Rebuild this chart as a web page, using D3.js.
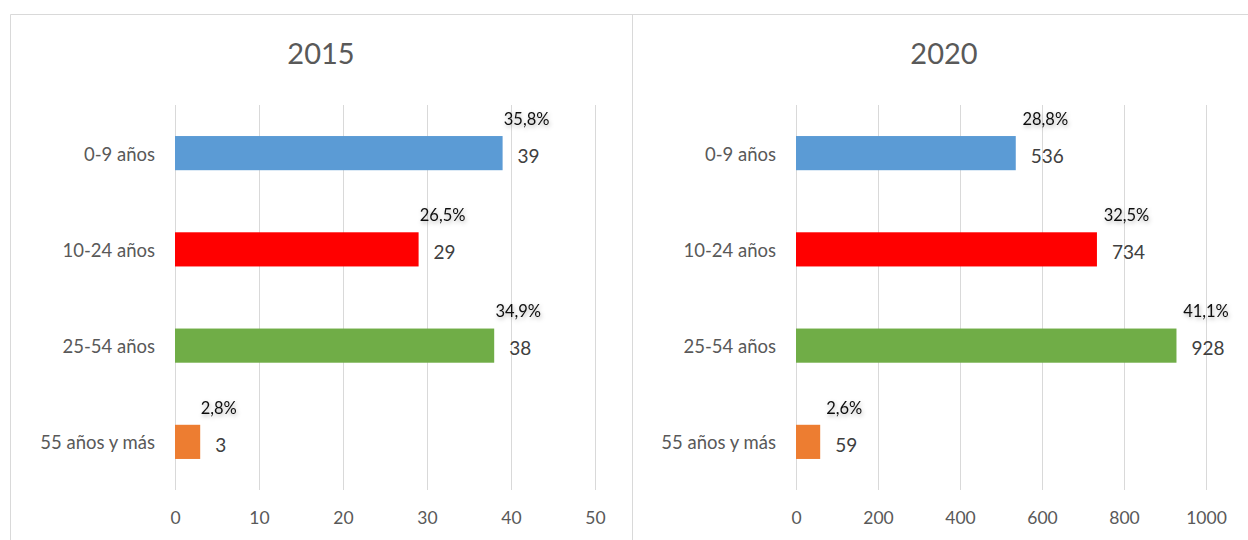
<!DOCTYPE html>
<html>
<head>
<meta charset="utf-8">
<script src="https://cdn.jsdelivr.net/npm/d3@7"></script>
<style>
  html, body { margin: 0; padding: 0; background: #fff; }
  svg { display: block; font-family: Lato, "Open Sans", sans-serif; }
  .grid line { stroke: #d9d9d9; stroke-width: 1; }
  .axis text { fill: #595959; }
  .axis path, .axis line { display: none; }
</style>
</head>
<body>
<div id="chart"></div>
<script>
const categories = ['0-9 años', '10-24 años', '25-54 años', '55 años y más'];
const colors = ['#5B9BD5', '#FF0000', '#70AD47', '#ED7D31'];

const values2015 = [39, 29, 38, 3];
const shares2015 = ['35,8%', '26,5%', '34,9%', '2,8%'];
const ticks2015 = [0, 10, 20, 30, 40, 50];

const values2020 = [536, 734, 928, 59];
const shares2020 = ['28,8%', '32,5%', '41,1%', '2,6%'];
const ticks2020 = [0, 200, 400, 600, 800, 1000];

const canvasWidth = 1248;
const canvasHeight = 540;

const svg = d3.select('#chart')
  .append('svg')
    .attr('width', canvasWidth)
    .attr('height', canvasHeight);

// soft shadow behind the percentage labels
const shadow = svg.append('defs').append('filter')
  .attr('id', 'glow')
  .attr('x', '-30%').attr('y', '-50%')
  .attr('width', '160%').attr('height', '220%');
shadow.append('feDropShadow')
  .attr('dx', 1).attr('dy', 2)
  .attr('stdDeviation', 2.2)
  .attr('flood-color', '#000')
  .attr('flood-opacity', 0.3);

// panel frames
svg.append('path')
  .attr('d', `M10.5,${canvasHeight} V14.5 H${canvasWidth} M632.5,14.5 V${canvasHeight}`)
  .attr('fill', 'none')
  .attr('stroke', '#d9d9d9');

function panel({ title, values, shares, ticks, left, right, centre }) {
  const top = 105;
  const bottom = 490;
  const g = svg.append('g');

  const scaleX = d3.scaleLinear()
    .domain([ticks[0], ticks[ticks.length - 1]])
    .range([left, right]);
  const scaleY = d3.scaleBand()
    .domain(categories)
    .range([top, bottom])
    .paddingInner(0.645)
    .paddingOuter(0.3225);

  g.append('text')
    .attr('x', centre)
    .attr('y', 64)
    .attr('text-anchor', 'middle')
    .attr('fill', '#595959')
    .style('font-size', '29px')
    .text(title);

  // vertical gridlines
  g.append('g')
    .attr('class', 'grid')
    .selectAll('line')
    .data(ticks)
    .enter()
    .append('line')
      .attr('x1', d => Math.round(scaleX(d)) + 0.5)
      .attr('x2', d => Math.round(scaleX(d)) + 0.5)
      .attr('y1', top)
      .attr('y2', bottom);

  g.append('g')
    .attr('class', 'axis')
    .attr('transform', `translate(0, ${bottom})`)
    .call(d3.axisBottom(scaleX).tickValues(ticks).tickFormat(d3.format('d')).tickSize(0).tickPadding(22))
    .attr('font-family', null)
    .attr('font-size', null)
    .selectAll('text')
      .style('font-size', '17.5px');

  g.append('g')
    .attr('class', 'axis')
    .attr('transform', `translate(${left}, 0)`)
    .call(d3.axisLeft(scaleY).tickSize(0).tickPadding(20))
    .attr('font-family', null)
    .attr('font-size', null)
    .selectAll('text')
      .attr('dy', '0.4em')
      .style('font-size', '18.5px');

  const rows = categories.map((c, i) => ({ c, v: values[i], s: shares[i], color: colors[i] }));

  g.append('g')
    .selectAll('rect')
    .data(rows)
    .enter()
    .append('rect')
      .attr('x', scaleX(0))
      .attr('y', d => scaleY(d.c))
      .attr('width', d => scaleX(d.v) - scaleX(0))
      .attr('height', scaleY.bandwidth())
      .attr('fill', d => d.color);

  const valueLabels = g.append('g')
    .selectAll('text')
    .data(rows)
    .enter()
    .append('text')
      .attr('x', d => scaleX(d.v) + 15)
      .attr('y', d => scaleY(d.c) + scaleY.bandwidth() / 2 + 3)
      .attr('dy', '0.35em')
      .attr('fill', '#404040')
      .style('font-size', '19px')
      .text(d => d.v);

  const widths = valueLabels.nodes().map(n => n.getComputedTextLength());

  g.append('g')
    .selectAll('text')
    .data(rows)
    .enter()
    .append('text')
      .attr('x', (d, i) => scaleX(d.v) + 15 + widths[i] / 2 - 2)
      .attr('y', d => scaleY(d.c) - 17)
      .attr('dy', '0.35em')
      .attr('text-anchor', 'middle')
      .attr('fill', '#111')
      .attr('filter', 'url(#glow)')
      .style('font-size', '16.5px')
      .text(d => d.s);
}

panel({
  title: '2015', values: values2015, shares: shares2015, ticks: ticks2015,
  left: 175, right: 595, centre: 321,
});
panel({
  title: '2020', values: values2020, shares: shares2020, ticks: ticks2020,
  left: 796, right: 1206, centre: 944,
});
</script>
</body>
</html>
